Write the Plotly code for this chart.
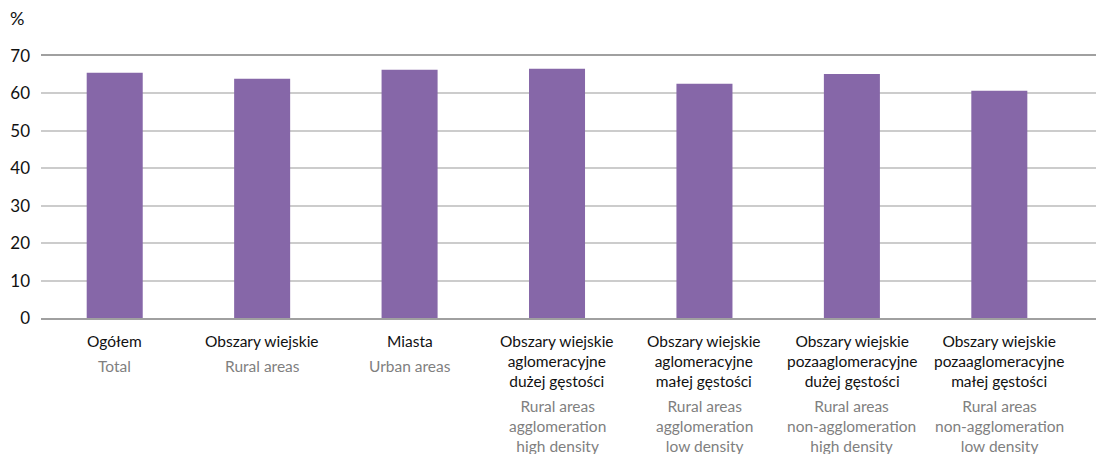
import plotly.graph_objects as go

categories_pl = [
    "Ogółem",
    "Obszary wiejskie",
    "Miasta",
    "Obszary wiejskie<br>aglomeracyjne<br>dużej gęstości",
    "Obszary wiejskie<br>aglomeracyjne<br>małej gęstości",
    "Obszary wiejskie<br>pozaaglomeracyjne<br>dużej gęstości",
    "Obszary wiejskie<br>pozaaglomeracyjne<br>małej gęstości",
]
categories_en = [
    "Total",
    "Rural areas",
    "Urban areas",
    "Rural areas<br>agglomeration<br>high density",
    "Rural areas<br>agglomeration<br>low density",
    "Rural areas<br>non-agglomeration<br>high density",
    "Rural areas<br>non-agglomeration<br>low density",
]
values = [65.5, 63.9, 66.3, 66.6, 62.6, 65.2, 60.7]
y_ticks = [0, 10, 20, 30, 40, 50, 60, 70]

FONT = "Lato"
BAR = "#8667a8"
LBL = 15.5
x_idx = list(range(len(values)))

fig = go.Figure(go.Bar(x=x_idx, y=values, marker_color=BAR, marker_line_width=0,
                       hoverinfo="skip"))

annotations = []
LINE = 1.3 * LBL
for i, (pl, en) in enumerate(zip(categories_pl, categories_en)):
    n_pl = pl.count("<br>") + 1
    annotations.append(dict(x=i, xref="x", y=0, yref="paper", yanchor="top",
                            xanchor="center", yshift=-12, text=pl, showarrow=False,
                            align="center", font=dict(family=FONT, size=LBL, color="#111111")))
    annotations.append(dict(x=i, xref="x", y=0, yref="paper", yanchor="top",
                            xanchor="center", yshift=-12 - n_pl * LINE - 5, text=en,
                            showarrow=False, align="center",
                            font=dict(family=FONT, size=LBL, color="#7f7f7f")))
annotations.append(dict(x=0, xref="paper", y=1, yref="paper", xanchor="right",
                        yanchor="bottom", xshift=-15, yshift=25, text="%", showarrow=False,
                        font=dict(family=FONT, size=18, color="#111111")))

# page body has an 8px default margin; size the figure to fit the 1104x454 window
fig.update_layout(
    width=1096, height=446,
    margin=dict(l=33, r=0, t=48, b=136),
    paper_bgcolor="white", plot_bgcolor="white",
    bargap=0.62, showlegend=False,
    annotations=annotations,
    font=dict(family=FONT, size=16, color="#111111"),
)
fig.update_xaxes(range=[-0.5, 6.71], showticklabels=False, showgrid=False,
                 showline=True, mirror=True, linecolor="#a0a0a0", linewidth=1.5,
                 zeroline=False, fixedrange=True)
fig.update_yaxes(range=[0, 70], tickvals=y_ticks, showgrid=True, gridcolor="#cccccc",
                 gridwidth=1.5, zeroline=False, showline=False, ticks="",
                 ticklabelstandoff=10, tickfont=dict(family=FONT, size=17, color="#111111"),
                 fixedrange=True)

fig.write_html("out.html", config={"displayModeBar": False})
